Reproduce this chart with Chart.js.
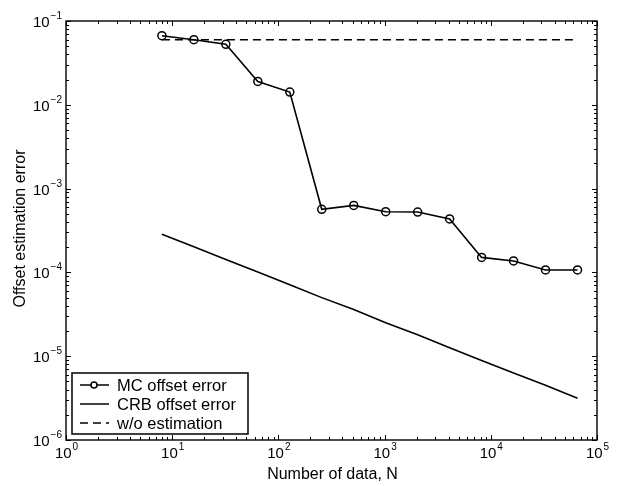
<!DOCTYPE html>
<html>
<head>
<meta charset="utf-8">
<script src="https://cdn.jsdelivr.net/npm/chart.js@4/dist/chart.umd.min.js"></script>
<style>
  html, body { margin: 0; padding: 0; background: #fff; }
  #box { width: 623px; height: 486px; }
</style>
</head>
<body>
<div id="box"><canvas id="offsetChart"></canvas></div>
<script>
'use strict';

// number of data (2^3 .. 2^16)
const nData = [8, 16, 32, 64, 128, 256, 512, 1024, 2048, 4096, 8192, 16384, 32768, 65536];
// values
const mcError = [0.0668, 0.0598, 0.0527, 0.0190, 0.0142, 5.66e-4, 6.3e-4, 5.3e-4, 5.25e-4, 4.35e-4, 1.51e-4, 1.37e-4, 1.07e-4, 1.07e-4];
const crbError = [2.85e-4, 2.02e-4, 1.43e-4, 1.01e-4, 7.1e-5, 5.0e-5, 3.6e-5, 2.5e-5, 1.8e-5, 1.26e-5, 8.9e-6, 6.3e-6, 4.5e-6, 3.15e-6];
const noEstN = [8, 65536];
const noEstError = [0.0598, 0.0598];

const xDecades = [0, 1, 2, 3, 4, 5];
const yDecades = [-6, -5, -4, -3, -2, -1];
const legendLabels = ['MC offset error', 'CRB offset error', 'w/o estimation'];

const FONT = '"Liberation Sans", Arial, sans-serif';

function pairs(xs, ys) {
  return xs.map(function (x, i) { return { x: x, y: ys[i] }; });
}

// axes box, inside ticks, 10^n labels, titles and legend
const matlabAxes = {
  id: 'matlabAxes',
  afterDraw: function (chart) {
    const ctx = chart.ctx;
    const a = chart.chartArea;
    const xs = chart.scales.x;
    const ys = chart.scales.y;
    ctx.save();
    ctx.strokeStyle = '#000';
    ctx.fillStyle = '#000';
    ctx.lineWidth = 1.4;
    ctx.strokeRect(a.left, a.top, a.right - a.left, a.bottom - a.top);

    ctx.lineWidth = 1;
    ctx.beginPath();
    xDecades.forEach(function (d) {
      for (let k = 1; k <= 9; k++) {
        if (k > 1 && d === xDecades[xDecades.length - 1]) break;
        const px = Math.round(xs.getPixelForValue(k * Math.pow(10, d))) + 0.5;
        const len = k === 1 ? 5 : 3;
        ctx.moveTo(px, a.bottom); ctx.lineTo(px, a.bottom - len);
        ctx.moveTo(px, a.top); ctx.lineTo(px, a.top + len);
      }
    });
    yDecades.forEach(function (d) {
      for (let k = 1; k <= 9; k++) {
        if (k > 1 && d === yDecades[yDecades.length - 1]) break;
        const py = Math.round(ys.getPixelForValue(k * Math.pow(10, d))) + 0.5;
        const len = k === 1 ? 5 : 3;
        ctx.moveTo(a.left, py); ctx.lineTo(a.left + len, py);
        ctx.moveTo(a.right, py); ctx.lineTo(a.right - len, py);
      }
    });
    ctx.stroke();

    // tick labels
    ctx.textBaseline = 'alphabetic';
    xDecades.forEach(function (d) {
      const px = xs.getPixelForValue(Math.pow(10, d));
      ctx.font = '15px ' + FONT;
      const wBase = ctx.measureText('10').width;
      ctx.font = '10px ' + FONT;
      const exp = String(d);
      const wExp = ctx.measureText(exp).width;
      const start = px - (wBase + wExp) / 2;
      ctx.font = '15px ' + FONT;
      ctx.textAlign = 'left';
      ctx.fillText('10', start, a.bottom + 18);
      ctx.font = '10px ' + FONT;
      ctx.fillText(exp, start + wBase + 1, a.bottom + 10);
    });
    yDecades.forEach(function (d) {
      const py = ys.getPixelForValue(Math.pow(10, d));
      const exp = '\u2212' + Math.abs(d);
      ctx.font = '10px ' + FONT;
      const wExp = ctx.measureText(exp).width;
      ctx.textAlign = 'left';
      const expX = a.left - 4 - wExp;
      ctx.fillText(exp, expX, py - 2);
      ctx.font = '15px ' + FONT;
      ctx.textAlign = 'right';
      ctx.fillText('10', expX - 1, py + 6);
    });

    // axis titles
    ctx.font = '16px ' + FONT;
    ctx.textAlign = 'center';
    ctx.fillText('Number of data, N', (a.left + a.right) / 2 + 1, a.bottom + 39);
    ctx.save();
    ctx.translate(25, (a.top + a.bottom) / 2 - 2);
    ctx.rotate(-Math.PI / 2);
    ctx.fillText('Offset estimation error', 0, 0);
    ctx.restore();

    // legend
    const lx = a.left + 6, ly = a.bottom - 67, lw = 176, lh = 61;
    ctx.fillStyle = '#fff';
    ctx.fillRect(lx, ly, lw, lh);
    ctx.lineWidth = 1.5;
    ctx.strokeRect(lx, ly, lw, lh);
    ctx.font = '16.5px ' + FONT;
    ctx.textAlign = 'left';
    ctx.textBaseline = 'middle';
    chart.data.datasets.forEach(function (ds, i) {
      const cy = ly + 12 + i * 19;
      ctx.strokeStyle = '#000';
      ctx.lineWidth = 1.5;
      ctx.setLineDash(ds.borderDash || []);
      ctx.beginPath();
      ctx.moveTo(lx + 8, cy); ctx.lineTo(lx + 37, cy);
      ctx.stroke();
      ctx.setLineDash([]);
      if (ds.pointRadius > 0) {
        ctx.fillStyle = '#fff';
        ctx.beginPath();
        ctx.arc(lx + 22, cy, 3, 0, Math.PI * 2);
        ctx.fill();
        ctx.stroke();
      }
      ctx.fillStyle = '#000';
      ctx.fillText(legendLabels[i], lx + 45, cy + 1);
    });
    ctx.restore();
  }
};

const context = document.querySelector('#offsetChart').getContext('2d');
new Chart(context, {
  type: 'line',
  data: {
    datasets: [{
      label: legendLabels[0],
      data: pairs(nData, mcError),
      borderColor: '#000',
      borderWidth: 1.6,
      pointRadius: 4,
      pointBorderWidth: 1.5,
      pointBorderColor: '#000',
      pointBackgroundColor: 'rgba(0,0,0,0)',
      fill: false,
      tension: 0
    }, {
      label: legendLabels[1],
      data: pairs(nData, crbError),
      borderColor: '#000',
      borderWidth: 1.6,
      pointRadius: 0,
      fill: false,
      tension: 0
    }, {
      label: legendLabels[2],
      data: pairs(noEstN, noEstError),
      borderColor: '#000',
      borderWidth: 1.6,
      borderDash: [8, 5],
      pointRadius: 0,
      fill: false,
      tension: 0
    }]
  },
  options: {
    responsive: true,
    maintainAspectRatio: false,
    animation: false,
    layout: { padding: { left: 66, right: 26, top: 21, bottom: 46 } },
    plugins: {
      legend: { display: false },
      tooltip: { enabled: false }
    },
    scales: {
      x: { type: 'logarithmic', min: 1, max: 1e5, display: false },
      y: { type: 'logarithmic', min: 1e-6, max: 1e-1, display: false }
    }
  },
  plugins: [matlabAxes]
});
</script>
</body>
</html>
